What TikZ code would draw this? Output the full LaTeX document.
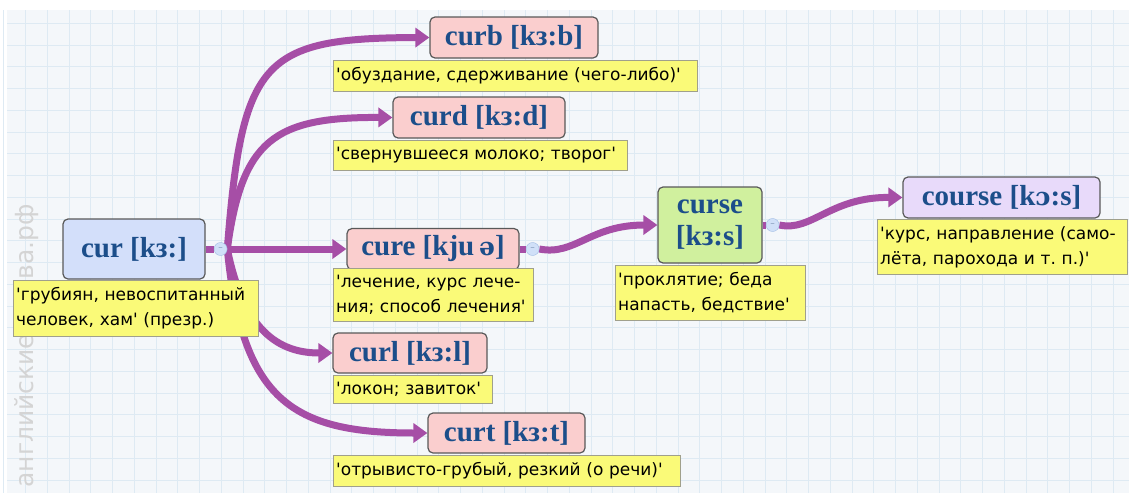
\documentclass[tikz,border=0pt]{standalone}
\usepackage{fontspec}
\newfontfamily\notefont{DejaVu Sans}
\newfontfamily\headfont{Liberation Serif}
\newfontfamily\ipafont{DejaVu Serif}
\usetikzlibrary{arrows.meta}
\pgfdeclarelayer{paper}
\pgfdeclarelayer{links}
\pgfsetlayers{paper,links,main}
\frenchspacing
\definecolor{linkpurple}{RGB}{166,78,166}
\definecolor{headblue}{RGB}{28,78,138}
\definecolor{rootfill}{RGB}{211,223,250}
\definecolor{pinkfill}{RGB}{250,206,206}
\definecolor{greenfill}{RGB}{208,240,158}
\definecolor{lilacfill}{RGB}{232,218,250}
\definecolor{notefill}{RGB}{250,250,120}
\definecolor{noteline}{RGB}{160,160,140}
\definecolor{gridfill}{RGB}{244,247,250}
\definecolor{gridline}{RGB}{222,234,243}
\definecolor{dotfill}{RGB}{208,224,248}
\definecolor{dotline}{RGB}{160,188,228}
\definecolor{markgray}{RGB}{212,212,212}
\newcommand{\ipa}[1]{{\ipafont\bfseries\fontsize{25}{32}\selectfont #1}}
\tikzset{
  wordbox/.style={draw=black!65, line width=1.2pt, rounded corners=5pt, fill=#1,
    text=headblue, font=\headfont\bfseries\fontsize{29}{32}\selectfont,
    align=center, inner sep=0pt},
  note/.style={draw=noteline, fill=notefill, anchor=north west, align=left,
    text width=#1, inner xsep=3pt, inner ysep=7pt,
    font=\notefont\fontsize{17}{25}\selectfont},
  link/.style={draw=linkpurple, line width=7pt, -{Triangle[length=14pt,width=19pt]}},
  stub/.style={draw=linkpurple, line width=7pt},
  colldot/.style={circle, draw=dotline, fill=dotfill, inner sep=0pt, minimum size=13pt,
    text=dotline!80!black, font=\notefont\fontsize{9}{9}\selectfont}
}
\begin{document}
\begin{tikzpicture}[x=1pt,y=-1pt]
\useasboundingbox (0,0) rectangle (1129,493);
% background
\begin{pgfonlayer}{paper}
\fill[white] (0,0) rectangle (1129,493);
\fill[gridfill] (7,10) rectangle (1129,493);
\foreach \gx in {0,...,51}
  \draw[gridline, line width=0.8pt] (3.75+21.75*\gx,10) -- (3.75+21.75*\gx,493);
\foreach \gy in {0,...,21}
  \draw[gridline, line width=0.8pt] (7,23.25+21.75*\gy) -- (1129,23.25+21.75*\gy);
\node[rotate=90, text=markgray, font=\notefont\fontsize{25}{25}\selectfont] (mark) at (27,346) {английские-слова.рф};
\end{pgfonlayer}

% words
\node[wordbox=rootfill, minimum width=142, minimum height=60] (cur) at (134,249) {cur [kз:]};
\node[wordbox=pinkfill, minimum width=168, minimum height=41] (curb) at (514,37.5) {curb [kз:b]};
\node[wordbox=pinkfill, minimum width=172, minimum height=41] (curd) at (479,117.5) {curd [kз:d]};
\node[wordbox=pinkfill, minimum width=172, minimum height=41] (cure) at (433,249) {cure [kju\,\ipa{ə}]};
\node[wordbox=greenfill, minimum width=104, minimum height=76] (curse) at (710,225) {curse\\{}[kз:s]};
\node[wordbox=lilacfill, minimum width=197, minimum height=41] (course) at (1001.5,197.5) {course [k\ipa{ɔ}:s]};
\node[wordbox=pinkfill, minimum width=154, minimum height=40] (curl) at (410,353) {curl [kз:l]};
\node[wordbox=pinkfill, minimum width=157, minimum height=40] (curt) at (506.5,433) {curt [kз:t]};

% meanings
\node[note=239] (curnote) at (13,280) {'грубиян, невоспитанный\\человек, хам' (презр.)};
\node[note=358] (curbnote) at (333,60) {'обуздание, сдерживание (чего-либо)'};
\node[note=288] (curdnote) at (333,140) {'свернувшееся молоко; творог'};
\node[note=194] (curenote) at (333,268) {'лечение, курс лече-\\ния; способ лечения'};
\node[note=184] (cursenote) at (615,265) {'проклятие; беда\\напасть, бедствие'};
\node[note=244] (coursenote) at (877,219) {'курс, направление (само-\\лёта, парохода и т. п.)'};
\node[note=153] (curlnote) at (333,375) {'локон; завиток'};
\node[note=341] (curtnote) at (333,455) {'отрывисто-грубый, резкий (о речи)'};

% collapse dots
\node[colldot] (curdot) at ([xshift=15pt]cur.east) {–};
\node[colldot] (curedot) at ([xshift=13pt]cure.east) {–};
\node[colldot] (cursedot) at ([xshift=10pt]curse.east) {–};

% links
\begin{pgfonlayer}{links}
\draw[stub] (cur.east) -- (curdot.west);
\draw[stub] (cure.east) -- (curedot.west);
\draw[stub] (curse.east) -- (cursedot.west);
\draw[link] (curdot.east) .. controls (242,60) and (262,38) .. (curb.west);
\draw[link] (curdot.east) .. controls (242,140) and (274,117) .. (curd.west);
\draw[link] (curdot.east) -- (cure.west);
\draw[link] (curdot.east) .. controls (242,322) and (272,353) .. (curl.west);
\draw[link] (curdot.east) .. controls (242,400) and (292,433) .. (curt.west);
\draw[link] (curedot.east) .. controls (575,256) and (590,225) .. (curse.west);
\draw[link] (cursedot.east) .. controls (812,232) and (830,197) .. (course.west);
\end{pgfonlayer}
\end{tikzpicture}
\end{document}
